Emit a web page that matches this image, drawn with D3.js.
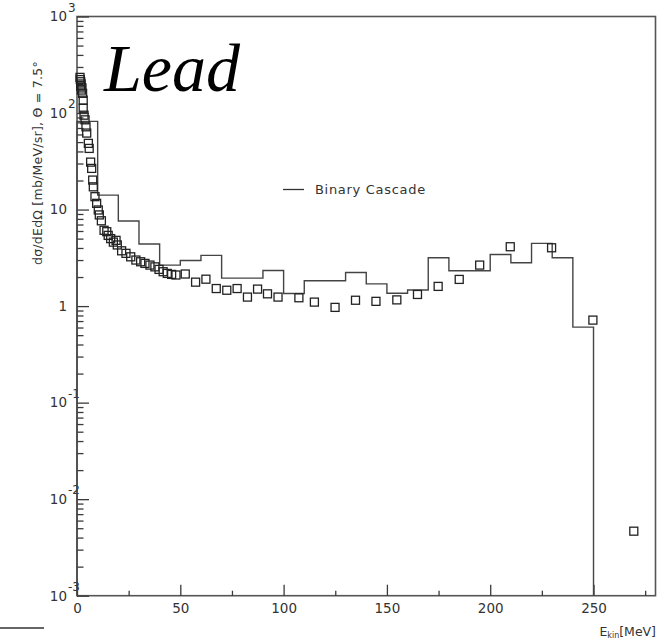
<!DOCTYPE html>
<html>
<head>
<meta charset="utf-8">
<script src="https://cdn.jsdelivr.net/npm/d3@7"></script>
<style>
  html, body { margin: 0; padding: 0; background: #fff; }
  svg { display: block; }
  .lbl { font-family: "DejaVu Sans", sans-serif; fill: #333; }
</style>
</head>
<body>
<svg id="chart" width="669" height="640"></svg>
<script>
// Measured double-differential cross section (open squares), proton kinetic energy in MeV
const dataEnergy = [1.45, 1.6, 1.8, 1.8, 2.0, 2.1, 2.4, 2.7, 3.0, 3.0, 3.4, 3.9, 4.35, 4.7, 5.5, 5.9,
  6.6, 7.1, 7.6, 7.9, 8.7, 9.5, 10.3, 10.8, 11.8, 13.1, 14.4, 15.1, 16.3, 17.6, 18.9, 19.5,
  21.6, 23.7, 26.0, 28.5, 30.8, 32.9, 35.3, 37.7, 39.7, 41.7, 43.7, 45.8, 47.9,
  52.4, 57.4, 62.4, 67.4, 72.5, 77.5, 82.5, 87.4, 92.2, 97.3,
  107.4, 114.9, 124.9, 134.8, 144.7, 154.8, 164.8, 174.8, 185.0, 194.9, 209.7, 229.7, 249.7, 269.5];
const dataValue = [234, 222, 211, 190, 200, 173, 182, 160, 136, 112, 95, 85, 72, 62, 48.5, 43,
  31, 26.7, 20.2, 17.2, 13.6, 11.6, 9.9, 8.8, 7.65, 6.1, 5.9, 5.4, 5.0, 4.6, 4.8, 4.3,
  3.74, 3.52, 3.24, 3.0, 2.88, 2.77, 2.66, 2.55, 2.4, 2.27, 2.18, 2.13, 2.1,
  2.15, 1.77, 1.9, 1.52, 1.46, 1.52, 1.24, 1.50, 1.34, 1.24,
  1.22, 1.10, 0.97, 1.15, 1.12, 1.16, 1.32, 1.60, 1.89, 2.66, 4.12, 4.02, 0.716, 0.00466];

// Binary Cascade model, 10 MeV bins (lower edges) and bin contents
const binLow = [0, 10, 20, 30, 40, 50, 60, 70, 80, 90, 100, 110, 120, 130, 140, 150, 160, 170,
  180, 190, 200, 210, 220, 230, 240];
const binValue = [82, 14.1, 7.6, 4.4, 2.66, 2.97, 3.35, 1.95, 1.95, 2.34, 1.35, 1.83, 1.83, 2.23,
  1.70, 1.36, 1.47, 3.17, 2.32, 2.32, 3.43, 2.81, 4.46, 3.17, 0.606];
const binWidth = 10;

// Axis ticks and labels
const xMajor = [0, 50, 100, 150, 200, 250];
const xMinor = [25, 75, 125, 175, 225, 275];
const yDecades = [1e-3, 1e-2, 1e-1, 1, 10, 100, 1000];
const yDecadeBase = ["10", "10", "10", "1", "10", "10", "10"];
const yDecadeExp = ["-3", "-2", "-1", "", "", "2", "3"];

const svg = d3.select("#chart");
const frameL = 77, frameR = 655.5, frameT = 16.5, frameB = 595.7;

const x = d3.scaleLinear().domain([0, 280]).range([frameL, frameR]);
const y = d3.scaleLog().domain([1e-3, 1e3]).range([frameB, frameT]);

const ink = "#3a3a3a";

// minor y ticks: 2..9 in every decade
const yMinor = [];
yDecades.slice(0, -1).forEach(d => { for (let k = 2; k <= 9; k++) yMinor.push(d * k); });

// frame
svg.append("rect").attr("x", frameL).attr("y", frameT)
  .attr("width", frameR - frameL).attr("height", frameB - frameT)
  .attr("fill", "none").attr("stroke", "#555").attr("stroke-width", 1.6);

// x axis (ticks pointing into the frame)
const gx = svg.append("g").attr("transform", `translate(0,${frameB})`)
  .call(d3.axisBottom(x).tickValues(xMajor).tickSize(-11).tickPadding(7).tickFormat(d3.format("d")));
gx.select(".domain").remove();
gx.selectAll("line").attr("stroke", ink).attr("stroke-width", 1.3);
gx.selectAll("text").attr("class", "lbl").attr("font-size", 13.5).attr("fill", "#333")
  .attr("font-family", "DejaVu Sans, sans-serif").attr("dy", "0.75em");

const gxm = svg.append("g").attr("transform", `translate(0,${frameB})`)
  .call(d3.axisBottom(x).tickValues(xMinor).tickSize(-5).tickFormat(""));
gxm.select(".domain").remove();
gxm.selectAll("line").attr("stroke", ink).attr("stroke-width", 1.3);

// y axis (ticks pointing into the frame)
const gy = svg.append("g").attr("transform", `translate(${frameL},0)`)
  .call(d3.axisLeft(y).tickValues(yDecades).tickSize(-12).tickFormat(""));
gy.select(".domain").remove();
gy.selectAll("line").attr("stroke", ink).attr("stroke-width", 1.3);

const gym = svg.append("g").attr("transform", `translate(${frameL},0)`)
  .call(d3.axisLeft(y).tickValues(yMinor).tickSize(-6.5).tickFormat(""));
gym.select(".domain").remove();
gym.selectAll("line").attr("stroke", ink).attr("stroke-width", 1.3);

// decade labels with exponents
yDecades.forEach((d, i) => {
  const yy = y(d);
  svg.append("text").attr("class", "lbl").attr("font-size", 13.5)
    .attr("x", 67).attr("y", yy).attr("dy", "0.36em").attr("text-anchor", "end")
    .text(yDecadeBase[i]);
  if (yDecadeExp[i]) {
    svg.append("text").attr("class", "lbl").attr("font-size", 12)
      .attr("x", 68).attr("y", yy - 9).attr("dy", "0.36em").attr("text-anchor", "start")
      .text(yDecadeExp[i]);
  }
});

// histogram as a step outline
const clipY = v => v > 0 ? y(v) : frameB;
let pts = [[x(binLow[0]), frameB]];
binLow.forEach((b, i) => {
  pts.push([x(b), clipY(binValue[i])]);
  pts.push([x(b + binWidth), clipY(binValue[i])]);
});
pts.push([x(binLow[binLow.length - 1] + binWidth), frameB]);
svg.append("path").attr("d", d3.line()(pts))
  .attr("fill", "none").attr("stroke", "#444").attr("stroke-width", 1.4);

// data points as open squares
const sq = 8;
svg.append("g").selectAll("rect").data(dataEnergy.map((e, i) => [e, dataValue[i]]))
  .join("rect")
  .attr("x", d => x(d[0]) - sq / 2).attr("y", d => y(d[1]) - sq / 2)
  .attr("width", sq).attr("height", sq)
  .attr("fill", "none").attr("stroke", "#222").attr("stroke-width", 1.3);

// legend
svg.append("line").attr("x1", 283).attr("x2", 304).attr("y1", 189.5).attr("y2", 189.5)
  .attr("stroke", "#333").attr("stroke-width", 1.3);
svg.append("text").attr("class", "lbl").attr("font-size", 13).attr("letter-spacing", 0.7)
  .attr("x", 315).attr("y", 189.5).attr("dy", "0.36em").text("Binary Cascade");

// target label
svg.append("text").attr("x", 104).attr("y", 91)
  .attr("font-family", "Liberation Serif, serif").attr("font-style", "italic")
  .attr("font-size", 68).attr("fill", "#000").text("Lead");

// axis titles
svg.append("text").attr("class", "lbl").attr("font-size", 12.5)
  .attr("transform", "translate(42,265) rotate(-90)")
  .attr("text-anchor", "start").attr("letter-spacing", 0.25)
  .text("d\u03C3/dEd\u03A9 [mb/MeV/sr], \u0398 = 7.5\u00B0");

const xt = svg.append("text").attr("class", "lbl").attr("font-size", 12.5)
  .attr("x", 656).attr("y", 636).attr("text-anchor", "end");
xt.append("tspan").text("E");
xt.append("tspan").attr("font-size", 8).attr("dy", 2).text("kin");
xt.append("tspan").attr("dy", -2).text("[MeV]");

// short stroke at the lower left
svg.append("line").attr("x1", 0).attr("x2", 44).attr("y1", 628).attr("y2", 628)
  .attr("stroke", "#333").attr("stroke-width", 1.3);
</script>
</body>
</html>
